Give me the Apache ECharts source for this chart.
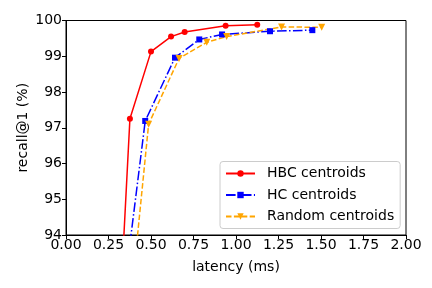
<!DOCTYPE html>
<html><head><meta charset="utf-8">
<script src="https://cdn.jsdelivr.net/npm/echarts@6/dist/echarts.min.js"></script>
<style>html,body{margin:0;padding:0;background:#fff}#c{width:432px;height:288px}</style>
</head><body><div id="c"></div>
<script>
const seriesNames = ['HBC centroids', 'HC centroids', 'Random centroids'];
const hbcLatency = [0.319, 0.376, 0.500, 0.618, 0.698, 0.939, 1.125];
const hbcRecall  = [92.0, 97.25, 99.13, 99.55, 99.68, 99.85, 99.88];
const hcLatency  = [0.330, 0.466, 0.641, 0.784, 0.918, 1.200, 1.449];
const hcRecall   = [92.0, 97.19, 98.96, 99.47, 99.61, 99.70, 99.73];
const rndLatency = [0.379, 0.486, 0.665, 0.828, 0.945, 1.268, 1.504];
const rndRecall  = [92.0, 97.10, 98.94, 99.39, 99.55, 99.82, 99.81];
const xTicks = [0, 0.25, 0.5, 0.75, 1.0, 1.25, 1.5, 1.75, 2.0];
const yTicks = [94, 95, 96, 97, 98, 99, 100];

const zip = (a, b) => a.map((v, i) => [v, b[i]]);
const font = 'DejaVu Sans';
const chart = echarts.init(document.getElementById('c'), null, {renderer: 'canvas'});
const mk = (name, xs, ys, color, symbol, dash, size, rot) => ({
  name, type: 'line', data: zip(xs, ys), clip: true,
  symbol, symbolSize: size, symbolRotate: rot, showSymbol: true,
  itemStyle: {color},
  lineStyle: {color, width: 1.5, type: dash},
  emphasis: {disabled: true}, animation: false, z: 3
});
chart.setOption({
  animation: false,
  grid: {left: 66, right: 26, top: 20.5, bottom: 53, show: true, borderColor: '#000', borderWidth: 1, containLabel: false},
  xAxis: {
    type: 'value', min: xTicks[0], max: xTicks[xTicks.length - 1], interval: 0.25,
    name: 'latency (ms)', nameLocation: 'middle', nameGap: 25, nameMoveOverlap: false,
    nameTextStyle: {fontFamily: font, fontSize: 14, color: '#000'},
    axisLine: {show: true, onZero: false, lineStyle: {color: '#000', width: 1}},
    axisTick: {show: true, length: 4, lineStyle: {color: '#000'}},
    axisLabel: {fontFamily: font, fontSize: 14, color: '#000', margin: 3, formatter: v => v.toFixed(2)},
    splitLine: {show: false}
  },
  yAxis: {
    type: 'value', min: yTicks[0], max: yTicks[yTicks.length - 1], interval: 1,
    name: 'recall@1 (%)', nameLocation: 'middle', nameGap: 36, nameMoveOverlap: false,
    nameTextStyle: {fontFamily: font, fontSize: 14, color: '#000'},
    axisLine: {show: true, lineStyle: {color: '#000', width: 1}},
    axisTick: {show: true, length: 4, lineStyle: {color: '#000'}},
    axisLabel: {fontFamily: font, fontSize: 14, color: '#000', margin: 4, formatter: v => String(v)},
    splitLine: {show: false}
  },
  legend: {
    orient: 'vertical', left: 220, top: 161.5,
    backgroundColor: 'rgba(255,255,255,0.85)', borderColor: '#ccc', borderWidth: 1, borderRadius: 3,
    padding: [5, 6, 5, 5], itemGap: 7.5, itemWidth: 29, itemHeight: 8,
    textStyle: {fontFamily: font, fontSize: 14, color: '#000', padding: [0, 0, 0, 7], lineHeight: 14},
    data: seriesNames
  },
  series: [
    mk(seriesNames[0], hbcLatency, hbcRecall, '#ff0000', 'circle', 'solid', 6, 0),
    mk(seriesNames[1], hcLatency, hcRecall, '#0000ff', 'rect', [9.6, 2.4, 1.5, 2.4], 6, 0),
    mk(seriesNames[2], rndLatency, rndRecall, '#ffa500', 'triangle', [5.5, 2.4], 7, 180)
  ]
});
</script></body></html>
